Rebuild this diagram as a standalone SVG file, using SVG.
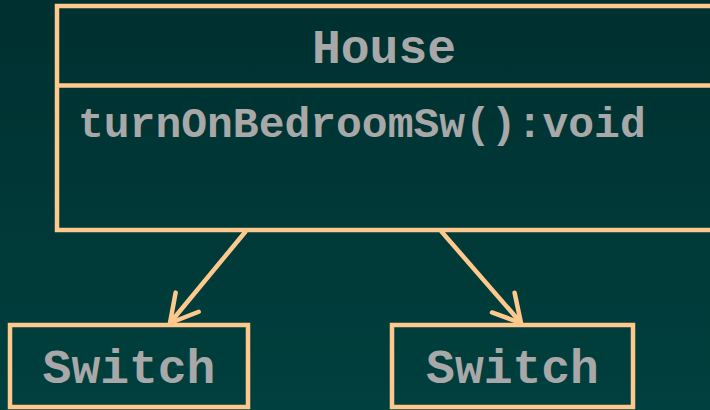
<svg xmlns="http://www.w3.org/2000/svg" width="710" height="410" viewBox="0 0 710 410">
<defs>
<linearGradient id="bg" x1="0" y1="0" x2="0" y2="1">
<stop offset="0" stop-color="#003030"/>
<stop offset="1" stop-color="#00403e"/>
</linearGradient>
<marker id="arr" markerUnits="userSpaceOnUse" markerWidth="40" markerHeight="40" viewBox="-32 -20 36 40" refX="0" refY="0" orient="auto" overflow="visible">
<path d="M -27,-15 L 0,0 L -27,15" fill="none" stroke="#ffc88c" stroke-width="4.5" stroke-linecap="round" stroke-linejoin="round"/>
</marker>
<style>
.box{fill:none;stroke:#ffc88c;stroke-width:4.5}
.t{font-family:"Liberation Mono","Courier New",monospace;font-weight:bold;fill:#a8a8a8}
.conn{stroke:#ffc88c;stroke-width:4.5;fill:none;marker-end:url(#arr)}
</style>
</defs>
<rect width="710" height="410" fill="url(#bg)"/>
<g id="House">
<rect class="box" x="57" y="6" width="680" height="224"/>
<line class="box" x1="57" y1="85.5" x2="737" y2="85.5"/>
<text class="t" x="384" y="63" font-size="48" text-anchor="middle">House</text>
<text class="t" x="78" y="137" font-size="43">turnOnBedroomSw():void</text>
</g>
<g id="Switch1">
<rect class="box" x="10" y="325" width="238" height="82"/>
<text class="t" x="129" y="383" font-size="48" text-anchor="middle">Switch</text>
</g>
<g id="Switch2">
<rect class="box" x="392" y="325" width="241" height="82"/>
<text class="t" x="512.5" y="383" font-size="48" text-anchor="middle">Switch</text>
</g>
<g id="connectors">
<line class="conn" x1="246" y1="231" x2="170" y2="323"/>
<line class="conn" x1="441" y1="231" x2="521" y2="323"/>
</g>
</svg>
